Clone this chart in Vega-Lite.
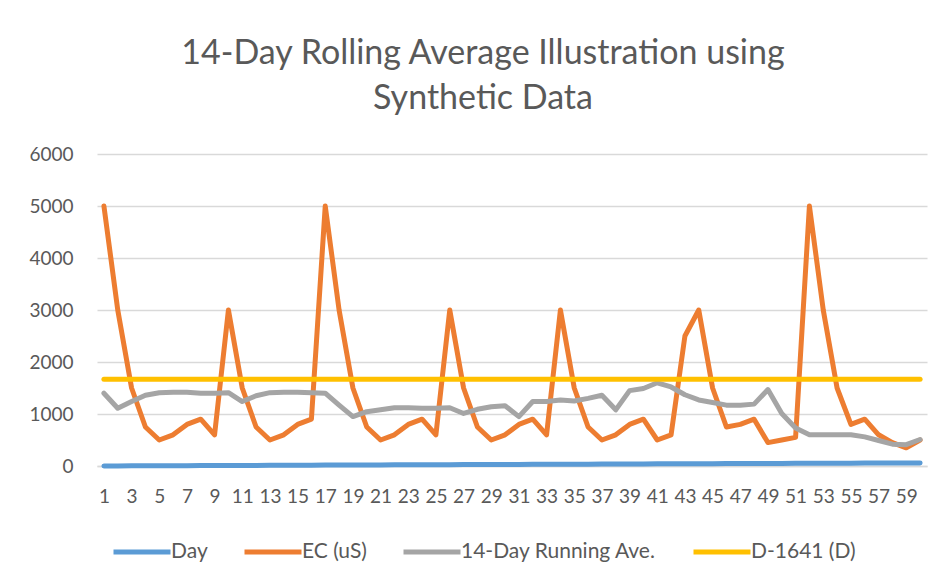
{
  "$schema": "https://vega.github.io/schema/vega-lite/v6.json",
  "autosize": {"type": "none"},
  "padding": {"left": 97, "top": 154, "right": 22, "bottom": 120},
  "width": 830,
  "height": 312,
  "background": "white",
  "title": {
    "text": ["14-Day Rolling Average Illustration using", "Synthetic Data"],
    "anchor": "middle",
    "frame": "group",
    "dx": -29,
    "offset": 29,
    "fontSize": 34,
    "font": "Lato",
    "fontWeight": "normal",
    "color": "#595959",
    "lineHeight": 45
  },
  "data": {
    "values": [
      {"d": 1, "Day": 1, "EC": 5000, "Avg": 1400, "D": 1667},
      {"d": 2, "Day": 2, "EC": 3000, "Avg": 1110, "D": 1667},
      {"d": 3, "Day": 3, "EC": 1500, "Avg": 1240, "D": 1667},
      {"d": 4, "Day": 4, "EC": 750, "Avg": 1360, "D": 1667},
      {"d": 5, "Day": 5, "EC": 500, "Avg": 1410, "D": 1667},
      {"d": 6, "Day": 6, "EC": 600, "Avg": 1420, "D": 1667},
      {"d": 7, "Day": 7, "EC": 800, "Avg": 1420, "D": 1667},
      {"d": 8, "Day": 8, "EC": 900, "Avg": 1400, "D": 1667},
      {"d": 9, "Day": 9, "EC": 600, "Avg": 1400, "D": 1667},
      {"d": 10, "Day": 10, "EC": 3000, "Avg": 1410, "D": 1667},
      {"d": 11, "Day": 11, "EC": 1500, "Avg": 1240, "D": 1667},
      {"d": 12, "Day": 12, "EC": 750, "Avg": 1350, "D": 1667},
      {"d": 13, "Day": 13, "EC": 500, "Avg": 1410, "D": 1667},
      {"d": 14, "Day": 14, "EC": 600, "Avg": 1420, "D": 1667},
      {"d": 15, "Day": 15, "EC": 800, "Avg": 1420, "D": 1667},
      {"d": 16, "Day": 16, "EC": 900, "Avg": 1410, "D": 1667},
      {"d": 17, "Day": 17, "EC": 5000, "Avg": 1400, "D": 1667},
      {"d": 18, "Day": 18, "EC": 3000, "Avg": 1170, "D": 1667},
      {"d": 19, "Day": 19, "EC": 1500, "Avg": 950, "D": 1667},
      {"d": 20, "Day": 20, "EC": 750, "Avg": 1045, "D": 1667},
      {"d": 21, "Day": 21, "EC": 500, "Avg": 1080, "D": 1667},
      {"d": 22, "Day": 22, "EC": 600, "Avg": 1120, "D": 1667},
      {"d": 23, "Day": 23, "EC": 800, "Avg": 1120, "D": 1667},
      {"d": 24, "Day": 24, "EC": 900, "Avg": 1110, "D": 1667},
      {"d": 25, "Day": 25, "EC": 600, "Avg": 1110, "D": 1667},
      {"d": 26, "Day": 26, "EC": 3000, "Avg": 1120, "D": 1667},
      {"d": 27, "Day": 27, "EC": 1500, "Avg": 1010, "D": 1667},
      {"d": 28, "Day": 28, "EC": 750, "Avg": 1090, "D": 1667},
      {"d": 29, "Day": 29, "EC": 500, "Avg": 1140, "D": 1667},
      {"d": 30, "Day": 30, "EC": 600, "Avg": 1160, "D": 1667},
      {"d": 31, "Day": 31, "EC": 800, "Avg": 950, "D": 1667},
      {"d": 32, "Day": 32, "EC": 900, "Avg": 1240, "D": 1667},
      {"d": 33, "Day": 33, "EC": 600, "Avg": 1240, "D": 1667},
      {"d": 34, "Day": 34, "EC": 3000, "Avg": 1270, "D": 1667},
      {"d": 35, "Day": 35, "EC": 1500, "Avg": 1250, "D": 1667},
      {"d": 36, "Day": 36, "EC": 750, "Avg": 1300, "D": 1667},
      {"d": 37, "Day": 37, "EC": 500, "Avg": 1360, "D": 1667},
      {"d": 38, "Day": 38, "EC": 600, "Avg": 1080, "D": 1667},
      {"d": 39, "Day": 39, "EC": 800, "Avg": 1450, "D": 1667},
      {"d": 40, "Day": 40, "EC": 900, "Avg": 1490, "D": 1667},
      {"d": 41, "Day": 41, "EC": 500, "Avg": 1600, "D": 1667},
      {"d": 42, "Day": 42, "EC": 600, "Avg": 1520, "D": 1667},
      {"d": 43, "Day": 43, "EC": 2500, "Avg": 1370, "D": 1667},
      {"d": 44, "Day": 44, "EC": 3000, "Avg": 1270, "D": 1667},
      {"d": 45, "Day": 45, "EC": 1500, "Avg": 1220, "D": 1667},
      {"d": 46, "Day": 46, "EC": 750, "Avg": 1170, "D": 1667},
      {"d": 47, "Day": 47, "EC": 800, "Avg": 1170, "D": 1667},
      {"d": 48, "Day": 48, "EC": 900, "Avg": 1190, "D": 1667},
      {"d": 49, "Day": 49, "EC": 450, "Avg": 1470, "D": 1667},
      {"d": 50, "Day": 50, "EC": 500, "Avg": 1010, "D": 1667},
      {"d": 51, "Day": 51, "EC": 550, "Avg": 730, "D": 1667},
      {"d": 52, "Day": 52, "EC": 5000, "Avg": 600, "D": 1667},
      {"d": 53, "Day": 53, "EC": 3000, "Avg": 600, "D": 1667},
      {"d": 54, "Day": 54, "EC": 1500, "Avg": 600, "D": 1667},
      {"d": 55, "Day": 55, "EC": 800, "Avg": 600, "D": 1667},
      {"d": 56, "Day": 56, "EC": 900, "Avg": 560, "D": 1667},
      {"d": 57, "Day": 57, "EC": 600, "Avg": 490, "D": 1667},
      {"d": 58, "Day": 58, "EC": 450, "Avg": 420, "D": 1667},
      {"d": 59, "Day": 59, "EC": 350, "Avg": 410, "D": 1667},
      {"d": 60, "Day": 60, "EC": 500, "Avg": 510, "D": 1667}
    ]
  },
  "transform": [
    {"fold": ["Day", "EC", "Avg", "D"], "as": ["series", "value"]}
  ],
  "mark": {"type": "line", "strokeWidth": 5, "strokeCap": "round", "strokeJoin": "round"},
  "encoding": {
    "x": {
      "field": "d",
      "type": "quantitative",
      "scale": {"domain": [0.5, 60.5], "nice": false, "zero": false},
      "axis": {
        "title": null,
        "values": [1,3,5,7,9,11,13,15,17,19,21,23,25,27,29,31,33,35,37,39,41,43,45,47,49,51,53,55,57,59],
        "format": "d",
        "grid": false,
        "ticks": false,
        "domain": true,
        "domainColor": "#D9D9D9",
        "domainWidth": 1.3,
        "labelFont": "Lato",
        "labelFontSize": 19,
        "labelColor": "#595959",
        "labelPadding": 21,
        "labelOverlap": false,
        "labelFlush": false
      }
    },
    "y": {
      "field": "value",
      "type": "quantitative",
      "scale": {"domain": [0, 6000], "nice": false},
      "axis": {
        "title": null,
        "values": [0, 1000, 2000, 3000, 4000, 5000, 6000],
        "format": "d",
        "grid": true,
        "gridColor": "#D9D9D9",
        "gridWidth": 1.3,
        "ticks": false,
        "domain": false,
        "labelFont": "Lato",
        "labelFontSize": 19,
        "labelColor": "#595959",
        "labelPadding": 24
      }
    },
    "color": {
      "field": "series",
      "type": "nominal",
      "sort": ["Day", "EC", "Avg", "D"],
      "scale": {
        "domain": ["Day", "EC", "Avg", "D"],
        "range": ["#5B9BD5", "#ED7D31", "#A5A5A5", "#FFC000"]
      },
      "legend": {
        "title": null,
        "orient": "none",
        "direction": "horizontal",
        "legendX": 14,
        "legendY": 367,
        "padding": 0,
        "symbolType": "stroke",
        "symbolSize": 3249,
        "symbolStrokeWidth": 5,
        "labelOffset": -2,
        "columnPadding": 26,
        "labelFont": "Lato",
        "labelFontSize": 21,
        "labelColor": "#595959",
        "labelLimit": 400,
        "labelExpr": "datum.label == 'EC' ? 'EC (uS)' : datum.label == 'Avg' ? '14-Day Running Ave.' : datum.label == 'D' ? 'D-1641 (D)' : 'Day'"
      }
    }
  },
  "config": {
    "view": {"stroke": null}
  }
}
